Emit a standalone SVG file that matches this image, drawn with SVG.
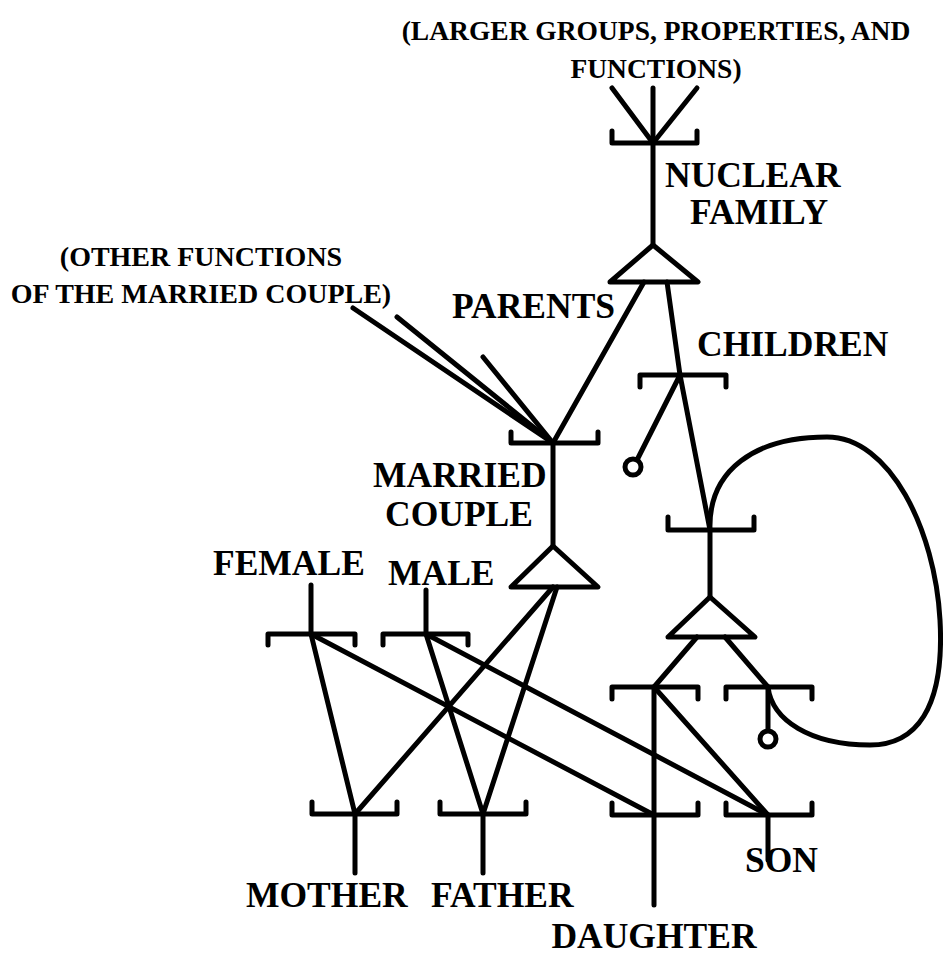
<svg xmlns="http://www.w3.org/2000/svg" width="943" height="965" viewBox="0 0 943 965">
<style>
.s{fill:none;stroke:#000;stroke-width:5;stroke-linecap:round;stroke-linejoin:round}
.c{fill:#fff;stroke:#000;stroke-width:5}
text{font-family:"Liberation Serif","Times New Roman",serif;font-weight:bold;fill:#000}
.lb{font-size:35.5px}
.sm{font-size:28px}
.tp{font-size:27.5px}
</style>
<rect width="943" height="965" fill="#fff"/>
<g id="connectors" class="s">
  <line x1="612" y1="88" x2="653" y2="143"/>
  <line x1="653" y1="88" x2="653" y2="245"/>
  <line x1="697" y1="88" x2="653" y2="143"/>
  <line x1="644" y1="282" x2="553" y2="443"/>
  <polyline points="667,282 680,375 710,530"/>
  <line x1="353" y1="308" x2="553" y2="443"/>
  <line x1="397" y1="317" x2="553" y2="443"/>
  <line x1="483" y1="357" x2="553" y2="443"/>
  <line x1="553" y1="443" x2="553" y2="546"/>
  <line x1="680" y1="375" x2="637" y2="460"/>
  <line x1="710" y1="530" x2="710" y2="597"/>
  <path d="M710,530 C708,470 755,437 827,437 C890,437 935,530 940,620 C945,710 915,745 870,745 C810,745 772,720 768,687"/>
  <line x1="697" y1="637" x2="654" y2="687"/>
  <line x1="725" y1="637" x2="768" y2="687"/>
  <line x1="768" y1="687" x2="768" y2="731"/>
  <line x1="654" y1="687" x2="654" y2="905"/>
  <line x1="654" y1="687" x2="768" y2="815"/>
  <line x1="311" y1="585" x2="311" y2="634"/>
  <line x1="426" y1="590" x2="426" y2="634"/>
  <line x1="311" y1="634" x2="355" y2="814"/>
  <line x1="311" y1="634" x2="654" y2="815"/>
  <line x1="426" y1="634" x2="483" y2="814"/>
  <line x1="426" y1="634" x2="768" y2="815"/>
  <line x1="553" y1="587" x2="355" y2="814"/>
  <line x1="557" y1="587" x2="483" y2="814"/>
  <line x1="355" y1="814" x2="355" y2="873"/>
  <line x1="483" y1="814" x2="483" y2="873"/>
  <line x1="768" y1="815" x2="768" y2="860"/>
</g>
<g id="larger-groups">
  <text class="tp" x="656" y="40" text-anchor="middle">(LARGER GROUPS, PROPERTIES, AND</text>
  <text class="tp" x="656" y="78" text-anchor="middle">FUNCTIONS)</text>
</g>
<g id="nuclear-family">
  <polyline class="s" points="612,131 612,143 697,143 697,131"/>
  <polygon class="s" points="653,245 698,282 610,282" fill="#fff"/>
  <text class="lb" x="665" y="187">NUCLEAR</text>
  <text class="lb" x="690" y="224">FAMILY</text>
</g>
<g id="other-functions">
  <text class="sm" x="201" y="266" text-anchor="middle">(OTHER FUNCTIONS</text>
  <text class="sm" x="201" y="303" text-anchor="middle">OF THE MARRIED COUPLE)</text>
</g>
<g id="parents">
  <text class="lb" x="452" y="318">PARENTS</text>
</g>
<g id="children">
  <polyline class="s" points="640,387 640,375 726,375 726,387"/>
  <circle class="c" cx="633" cy="467" r="8"/>
  <text class="lb" x="697" y="356">CHILDREN</text>
</g>
<g id="married-couple">
  <polyline class="s" points="511,432 511,443 598,443 598,432"/>
  <polygon class="s" points="553,546 598,587 511,587" fill="#fff"/>
  <text class="lb" x="373" y="487">MARRIED</text>
  <text class="lb" x="385" y="526">COUPLE</text>
</g>
<g id="child">
  <polyline class="s" points="668,517 668,530 754,530 754,517"/>
  <polygon class="s" points="710,597 755,637 668,637" fill="#fff"/>
</g>
<g id="child-daughter-role">
  <polyline class="s" points="612,699 612,687 698,687 698,699"/>
</g>
<g id="child-son-role">
  <polyline class="s" points="726,699 726,687 812,687 812,699"/>
  <circle class="c" cx="768" cy="739" r="8"/>
</g>
<g id="female">
  <polyline class="s" points="268,645 268,634 355,634 355,645"/>
  <text class="lb" x="213" y="575">FEMALE</text>
</g>
<g id="male">
  <polyline class="s" points="383,645 383,634 468,634 468,645"/>
  <text class="lb" x="388" y="585">MALE</text>
</g>
<g id="mother">
  <polyline class="s" points="312,802 312,814 397,814 397,802"/>
  <text class="lb" x="246" y="907">MOTHER</text>
</g>
<g id="father">
  <polyline class="s" points="440,802 440,814 526,814 526,802"/>
  <text class="lb" x="431" y="907">FATHER</text>
</g>
<g id="daughter">
  <polyline class="s" points="612,803 612,815 698,815 698,803"/>
  <text class="lb" x="654" y="948" text-anchor="middle">DAUGHTER</text>
</g>
<g id="son">
  <polyline class="s" points="726,803 726,815 812,815 812,803"/>
  <text class="lb" x="745" y="872">SON</text>
</g>
</svg>
